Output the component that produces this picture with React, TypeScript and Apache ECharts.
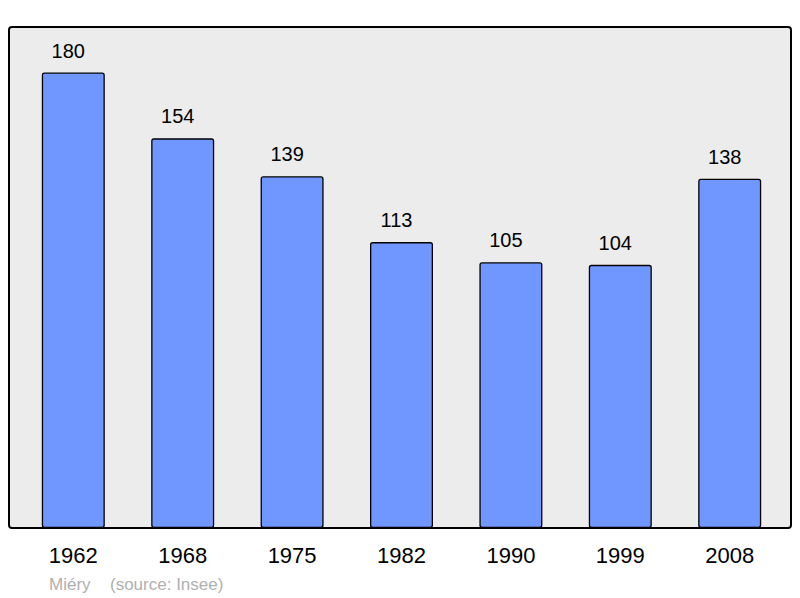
import React, { useEffect, useRef } from "react";
import * as echarts from "echarts";

const years = ["1962", "1968", "1975", "1982", "1990", "1999", "2008"];
const population = [180, 154, 139, 113, 105, 104, 138];
const townName = "Miéry";
const sourceText = "(source: Insee)";

export default function App() {
  const ref = useRef<HTMLDivElement>(null);
  useEffect(() => {
    if (!ref.current) return;
    const chart = echarts.init(ref.current, null, { renderer: "svg" });
    chart.setOption({
      animation: false,
      backgroundColor: "#ffffff",
      textStyle: { fontFamily: "Liberation Sans, Arial, sans-serif" },
      graphic: [
        {
          type: "rect",
          z: -10,
          silent: true,
          shape: { x: 9, y: 27, width: 782, height: 501, r: 3 },
          style: { fill: "#ececec", stroke: "#000000", lineWidth: 2 },
        },
        {
          type: "text",
          left: 49,
          top: 576,
          style: {
            text: townName,
            fill: "#b0b0b0",
            fontSize: 17,
            fontFamily: "Liberation Sans, Arial, sans-serif",
          },
        },
        {
          type: "text",
          left: 110,
          top: 576,
          style: {
            text: sourceText,
            fill: "#b0b0b0",
            fontSize: 17,
            fontFamily: "Liberation Sans, Arial, sans-serif",
          },
        },
      ],
      grid: { left: 18.6, right: 15.6, top: 27, bottom: 70 },
      xAxis: {
        type: "category",
        data: years,
        axisLine: { show: false },
        axisTick: { show: false },
        axisLabel: {
          color: "#000000",
          fontSize: 22,
          margin: 16,
          fontFamily: "Liberation Sans, Arial, sans-serif",
        },
      },
      yAxis: {
        type: "value",
        min: 0,
        max: 198,
        show: false,
        splitLine: { show: false },
      },
      series: [
        {
          type: "bar",
          data: population,
          barWidth: 63,
          itemStyle: {
            color: "#7096ff",
            borderColor: "#000000",
            borderWidth: 1.3,
            borderRadius: 2,
          },
          label: {
            show: true,
            position: "top",
            distance: 12,
            offset: [-5, 0],
            color: "#000000",
            fontSize: 20,
            fontFamily: "Liberation Sans, Arial, sans-serif",
          },
        },
      ],
    });
    return () => chart.dispose();
  }, []);
  return (
    <div
      ref={ref}
      style={{ position: "fixed", left: 0, top: 0, width: 800, height: 598 }}
    />
  );
}
